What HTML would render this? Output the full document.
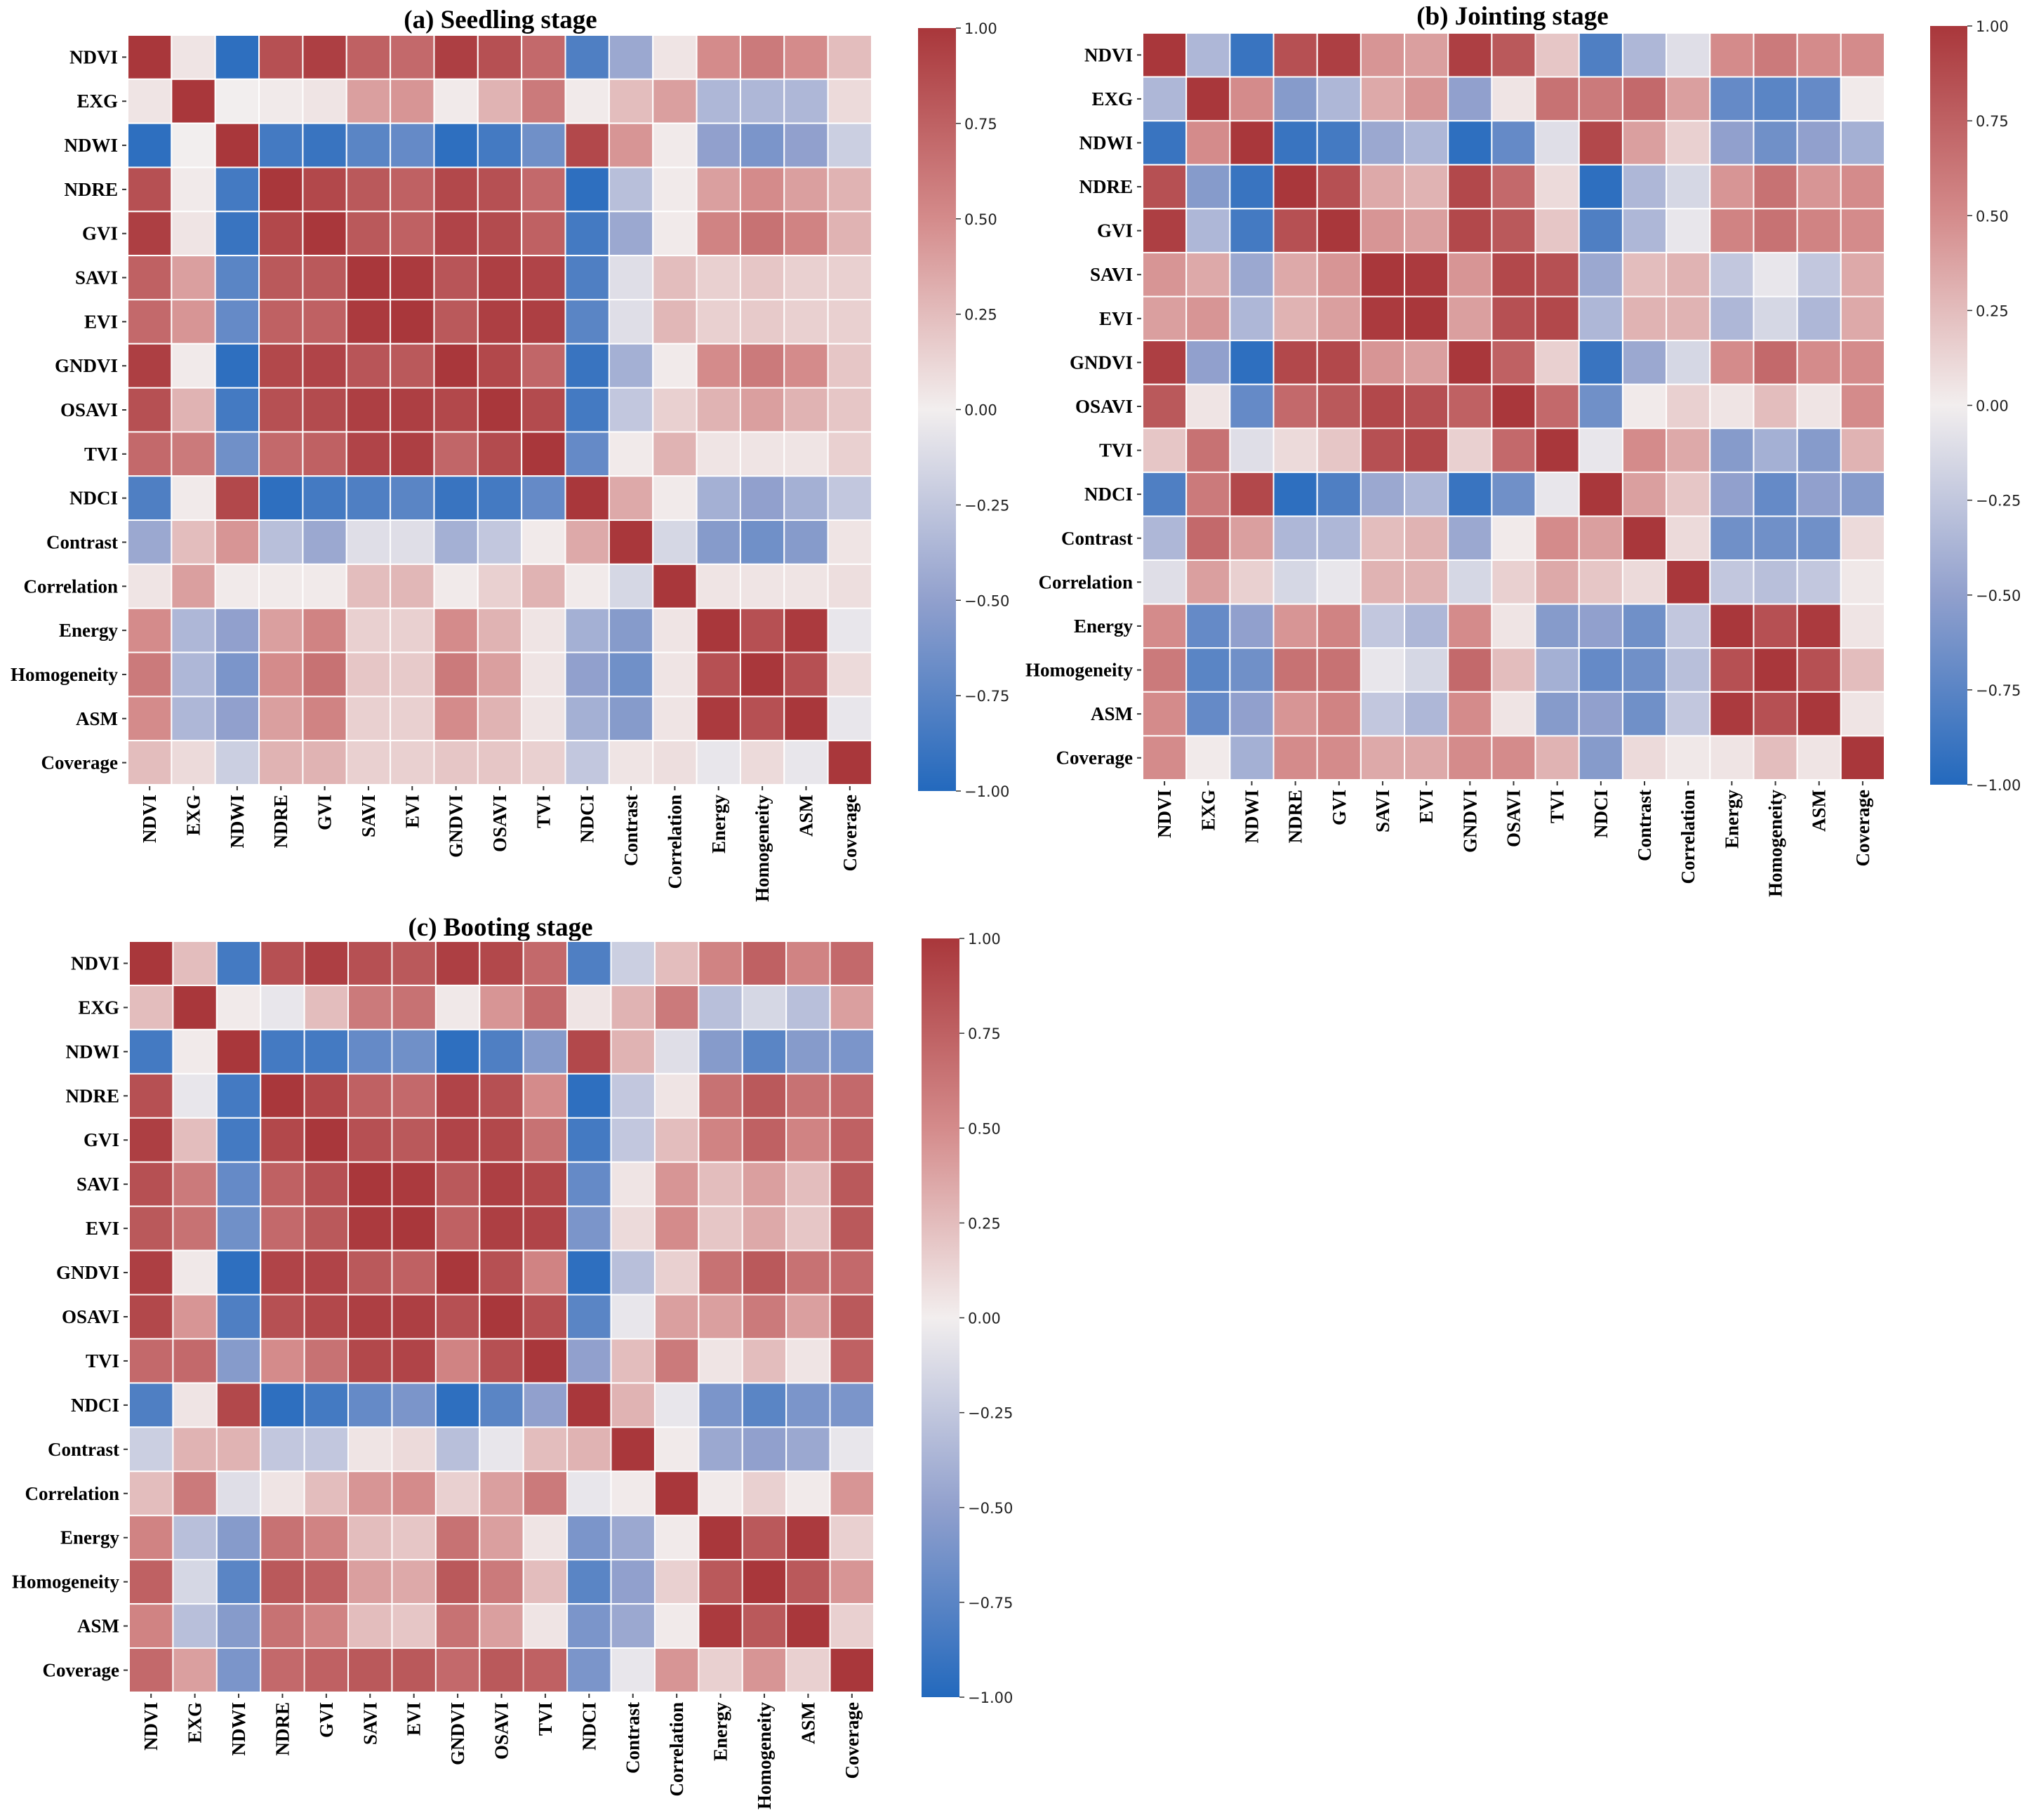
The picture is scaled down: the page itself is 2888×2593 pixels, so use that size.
<!DOCTYPE html>
<html><head><meta charset="utf-8">
<style>
html,body{margin:0;padding:0;background:#fff;}
svg{display:block;}
</style></head>
<body>
<svg id="chart" width="2888" height="2593" xmlns="http://www.w3.org/2000/svg">
<defs>
<linearGradient id="cbar" x1="0" y1="1" x2="0" y2="0">
<stop offset="0" stop-color="rgb(35,105,189)"/>
<stop offset="0.25" stop-color="rgb(145,160,205)"/>
<stop offset="0.5" stop-color="rgb(242,238,238)"/>
<stop offset="0.75" stop-color="rgb(212,139,139)"/>
<stop offset="1" stop-color="rgb(169,55,59)"/>
</linearGradient>
</defs>
</svg>
<script>
const labels = ["NDVI","EXG","NDWI","NDRE","GVI","SAVI","EVI","GNDVI","OSAVI","TVI","NDCI","Contrast","Correlation","Energy","Homogeneity","ASM","Coverage"];
const cbTicks = [1.00,0.75,0.50,0.25,0.00,-0.25,-0.50,-0.75,-1.00];
const titles = ["(a) Seedling stage","(b) Jointing stage","(c) Booting stage"];
const seedling = [
[1,0.05,-0.95,0.85,0.95,0.75,0.7,0.95,0.85,0.7,-0.8,-0.45,0.05,0.5,0.6,0.5,0.25],
[0.05,1,0,0.02,0.05,0.4,0.45,0.02,0.3,0.6,0.02,0.25,0.4,-0.35,-0.35,-0.35,0.1],
[-0.95,0,1,-0.85,-0.9,-0.75,-0.7,-0.95,-0.85,-0.65,0.9,0.45,0.02,-0.5,-0.6,-0.5,-0.2],
[0.85,0.02,-0.85,1,0.9,0.8,0.75,0.9,0.85,0.7,-0.95,-0.3,0.02,0.4,0.5,0.4,0.3],
[0.95,0.05,-0.9,0.9,1,0.8,0.75,0.92,0.88,0.75,-0.85,-0.45,0.02,0.55,0.65,0.55,0.3],
[0.75,0.4,-0.75,0.8,0.8,1,0.98,0.82,0.95,0.92,-0.8,-0.1,0.25,0.15,0.2,0.15,0.15],
[0.7,0.45,-0.7,0.75,0.75,0.98,1,0.8,0.95,0.95,-0.75,-0.1,0.28,0.15,0.18,0.15,0.15],
[0.95,0.02,-0.95,0.9,0.92,0.82,0.8,1,0.9,0.72,-0.9,-0.4,0.02,0.5,0.6,0.5,0.2],
[0.85,0.3,-0.85,0.85,0.88,0.95,0.95,0.9,1,0.88,-0.85,-0.25,0.15,0.3,0.4,0.3,0.2],
[0.7,0.6,-0.65,0.7,0.75,0.92,0.95,0.72,0.88,1,-0.7,0.02,0.3,0.05,0.05,0.05,0.15],
[-0.8,0.02,0.9,-0.95,-0.85,-0.8,-0.75,-0.9,-0.85,-0.7,1,0.35,0.02,-0.4,-0.5,-0.4,-0.25],
[-0.45,0.25,0.45,-0.3,-0.45,-0.1,-0.1,-0.4,-0.25,0.02,0.35,1,-0.15,-0.55,-0.65,-0.55,0.05],
[0.05,0.4,0.02,0.02,0.02,0.25,0.28,0.02,0.15,0.3,0.02,-0.15,1,0.05,0.05,0.05,0.08],
[0.5,-0.35,-0.5,0.4,0.55,0.15,0.15,0.5,0.3,0.05,-0.4,-0.55,0.05,1,0.85,0.98,-0.05],
[0.6,-0.35,-0.6,0.5,0.65,0.2,0.18,0.6,0.4,0.05,-0.5,-0.65,0.05,0.85,1,0.85,0.1],
[0.5,-0.35,-0.5,0.4,0.55,0.15,0.15,0.5,0.3,0.05,-0.4,-0.55,0.05,0.98,0.85,1,-0.05],
[0.25,0.1,-0.2,0.3,0.3,0.15,0.15,0.2,0.2,0.15,-0.25,0.05,0.08,-0.05,0.1,-0.05,1]];
const jointing = [
[1,-0.35,-0.9,0.85,0.95,0.45,0.4,0.95,0.8,0.2,-0.8,-0.35,-0.1,0.5,0.6,0.5,0.5],
[-0.35,1,0.5,-0.55,-0.35,0.35,0.45,-0.5,0.05,0.65,0.6,0.7,0.4,-0.7,-0.75,-0.7,0.02],
[-0.9,0.5,1,-0.9,-0.85,-0.45,-0.35,-0.95,-0.7,-0.1,0.9,0.4,0.15,-0.5,-0.65,-0.5,-0.4],
[0.85,-0.55,-0.9,1,0.85,0.35,0.3,0.9,0.7,0.1,-0.95,-0.35,-0.15,0.45,0.65,0.45,0.5],
[0.95,-0.35,-0.85,0.85,1,0.45,0.4,0.9,0.8,0.2,-0.8,-0.35,-0.05,0.55,0.65,0.55,0.5],
[0.45,0.35,-0.45,0.35,0.45,1,0.98,0.45,0.9,0.85,-0.45,0.25,0.3,-0.25,-0.05,-0.25,0.35],
[0.4,0.45,-0.35,0.3,0.4,0.98,1,0.4,0.85,0.9,-0.35,0.3,0.3,-0.35,-0.15,-0.35,0.35],
[0.95,-0.5,-0.95,0.9,0.9,0.45,0.4,1,0.75,0.15,-0.9,-0.45,-0.15,0.5,0.7,0.5,0.5],
[0.8,0.05,-0.7,0.7,0.8,0.9,0.85,0.75,1,0.7,-0.65,0.02,0.15,0.05,0.25,0.05,0.5],
[0.2,0.65,-0.1,0.1,0.2,0.85,0.9,0.15,0.7,1,-0.05,0.5,0.35,-0.55,-0.4,-0.55,0.3],
[-0.8,0.6,0.9,-0.95,-0.8,-0.45,-0.35,-0.9,-0.65,-0.05,1,0.4,0.2,-0.5,-0.7,-0.5,-0.55],
[-0.35,0.7,0.4,-0.35,-0.35,0.25,0.3,-0.45,0.02,0.5,0.4,1,0.1,-0.65,-0.65,-0.65,0.1],
[-0.1,0.4,0.15,-0.15,-0.05,0.3,0.3,-0.15,0.15,0.35,0.2,0.1,1,-0.25,-0.3,-0.25,0.03],
[0.5,-0.7,-0.5,0.45,0.55,-0.25,-0.35,0.5,0.05,-0.55,-0.5,-0.65,-0.25,1,0.85,0.98,0.05],
[0.6,-0.75,-0.65,0.65,0.65,-0.05,-0.15,0.7,0.25,-0.4,-0.7,-0.65,-0.3,0.85,1,0.85,0.25],
[0.5,-0.7,-0.5,0.45,0.55,-0.25,-0.35,0.5,0.05,-0.55,-0.5,-0.65,-0.25,0.98,0.85,1,0.05],
[0.5,0.02,-0.4,0.5,0.5,0.35,0.35,0.5,0.5,0.3,-0.55,0.1,0.03,0.05,0.25,0.05,1]];
const booting = [
[1,0.25,-0.85,0.85,0.95,0.85,0.8,0.95,0.9,0.7,-0.8,-0.2,0.25,0.55,0.75,0.55,0.7],
[0.25,1,0.02,-0.05,0.25,0.6,0.65,0.03,0.45,0.7,0.05,0.3,0.6,-0.3,-0.15,-0.3,0.4],
[-0.85,0.02,1,-0.85,-0.85,-0.7,-0.65,-0.95,-0.8,-0.55,0.9,0.3,-0.1,-0.55,-0.75,-0.55,-0.6],
[0.85,-0.05,-0.85,1,0.9,0.75,0.7,0.92,0.85,0.5,-0.95,-0.25,0.05,0.65,0.8,0.65,0.7],
[0.95,0.25,-0.85,0.9,1,0.85,0.8,0.92,0.9,0.65,-0.85,-0.25,0.25,0.55,0.75,0.55,0.75],
[0.85,0.6,-0.7,0.75,0.85,1,0.98,0.8,0.95,0.9,-0.7,0.05,0.45,0.25,0.4,0.25,0.8],
[0.8,0.65,-0.65,0.7,0.8,0.98,1,0.75,0.95,0.92,-0.6,0.1,0.5,0.2,0.35,0.2,0.8],
[0.95,0.03,-0.95,0.92,0.92,0.8,0.75,1,0.85,0.55,-0.95,-0.3,0.15,0.65,0.8,0.65,0.7],
[0.9,0.45,-0.8,0.85,0.9,0.95,0.95,0.85,1,0.85,-0.75,-0.05,0.4,0.4,0.6,0.4,0.8],
[0.7,0.7,-0.55,0.5,0.65,0.9,0.92,0.55,0.85,1,-0.5,0.25,0.6,0.05,0.25,0.05,0.75],
[-0.8,0.05,0.9,-0.95,-0.85,-0.7,-0.6,-0.95,-0.75,-0.5,1,0.3,-0.05,-0.6,-0.75,-0.6,-0.6],
[-0.2,0.3,0.3,-0.25,-0.25,0.05,0.1,-0.3,-0.05,0.25,0.3,1,0.02,-0.45,-0.5,-0.45,-0.05],
[0.25,0.6,-0.1,0.05,0.25,0.45,0.5,0.15,0.4,0.6,-0.05,0.02,1,0.02,0.15,0.02,0.45],
[0.55,-0.3,-0.55,0.65,0.55,0.25,0.2,0.65,0.4,0.05,-0.6,-0.45,0.02,1,0.8,0.98,0.15],
[0.75,-0.15,-0.75,0.8,0.75,0.4,0.35,0.8,0.6,0.25,-0.75,-0.5,0.15,0.8,1,0.8,0.45],
[0.55,-0.3,-0.55,0.65,0.55,0.25,0.2,0.65,0.4,0.05,-0.6,-0.45,0.02,0.98,0.8,1,0.15],
[0.7,0.4,-0.6,0.7,0.75,0.8,0.8,0.7,0.8,0.75,-0.6,-0.05,0.45,0.15,0.45,0.15,1]];

const NS = "http://www.w3.org/2000/svg";
const svg = document.getElementById("chart");
const stops = [[-1,[35,105,189]],[-0.5,[145,160,205]],[0,[242,238,238]],[0.5,[212,139,139]],[1,[169,55,59]]];
function colorFor(v){
  v = Math.max(-1, Math.min(1, v));
  for (let i=0;i<stops.length-1;i++){
    const [a,ca]=stops[i],[b,cb]=stops[i+1];
    if (v<=b){const t=(v-a)/(b-a);return "rgb("+ca.map((c,k)=>Math.round(c+(cb[k]-c)*t)).join(",")+")";}
  }
  return "rgb(169,55,59)";
}
function mk(tag, attrs, parent){
  const e=document.createElementNS(NS,tag);
  for(const k in attrs) e.setAttribute(k,attrs[k]);
  (parent||svg).appendChild(e); return e;
}
const panels = [
 {data:seedling, x0:182, y0:50, x1:1242, y1:1118, cb:[1308,40,1362,1127], title:titles[0], tx:713, ty:40, key:"seedling"},
 {data:jointing, x0:1628, y0:47, x1:2685, y1:1111, cb:[2750,37,2803,1118], title:titles[1], tx:2155, ty:35, key:"jointing"},
 {data:booting, x0:184, y0:1341, x1:1245, y1:2411, cb:[1313,1337,1367,2418], title:titles[2], tx:713, ty:1333, key:"booting"}
];
panels.forEach(p=>{
  const n=labels.length, cw=(p.x1-p.x0)/n, ch=(p.y1-p.y0)/n;
  const g=mk("g",{});
  
  
  const t=mk("text",{x:p.tx,y:p.ty,"text-anchor":"middle","font-family":"Liberation Serif, serif","font-weight":"bold","font-size":"37"},g);
  t.textContent=p.title;
  
  
  p.data.forEach((row,i)=>row.forEach((v,j)=>{
    const r=mk("rect",{x:p.x0+j*cw,y:p.y0+i*ch,width:cw,height:ch,fill:colorFor(v),stroke:"#fff","stroke-width":"2"},g);
    
    
  }));
  labels.forEach((lab,i)=>{
    const cy=p.y0+(i+0.5)*ch;
    mk("line",{x1:p.x0-8,x2:p.x0-2,y1:cy,y2:cy,stroke:"#333","stroke-width":"2"},g);
    const yl=mk("text",{x:p.x0-14,y:cy+9,"text-anchor":"end","font-family":"Liberation Serif, serif","font-weight":"bold","font-size":"27"},g);
    yl.textContent=lab;
    
    
    const cx=p.x0+(i+0.5)*cw;
    mk("line",{x1:cx,x2:cx,y1:p.y1+2,y2:p.y1+8,stroke:"#333","stroke-width":"2"},g);
    const xl=mk("text",{x:0,y:0,"text-anchor":"end","font-family":"Liberation Serif, serif","font-weight":"bold","font-size":"27",transform:"translate("+(cx+9)+","+(p.y1+14)+") rotate(-90)"},g);
    xl.textContent=lab;
    
    
  });
  const [cx0,cy0,cx1,cy1]=p.cb;
  const cb=mk("rect",{x:cx0,y:cy0,width:cx1-cx0,height:cy1-cy0,fill:"url(#cbar)"},g);
  
  
  cbTicks.forEach(v=>{
    const y=cy1-(v+1)/2*(cy1-cy0);
    mk("line",{x1:cx1,x2:cx1+7,y1:y,y2:y,stroke:"#333","stroke-width":"1.5"},g);
    const tl=mk("text",{x:cx1+12,y:y+8,"font-family":"DejaVu Sans, sans-serif","font-size":"21",fill:"#222"},g);
    tl.textContent=(v<0?"\u2212":"")+Math.abs(v).toFixed(2);
    
    
  });
});
</script>
</body></html>
